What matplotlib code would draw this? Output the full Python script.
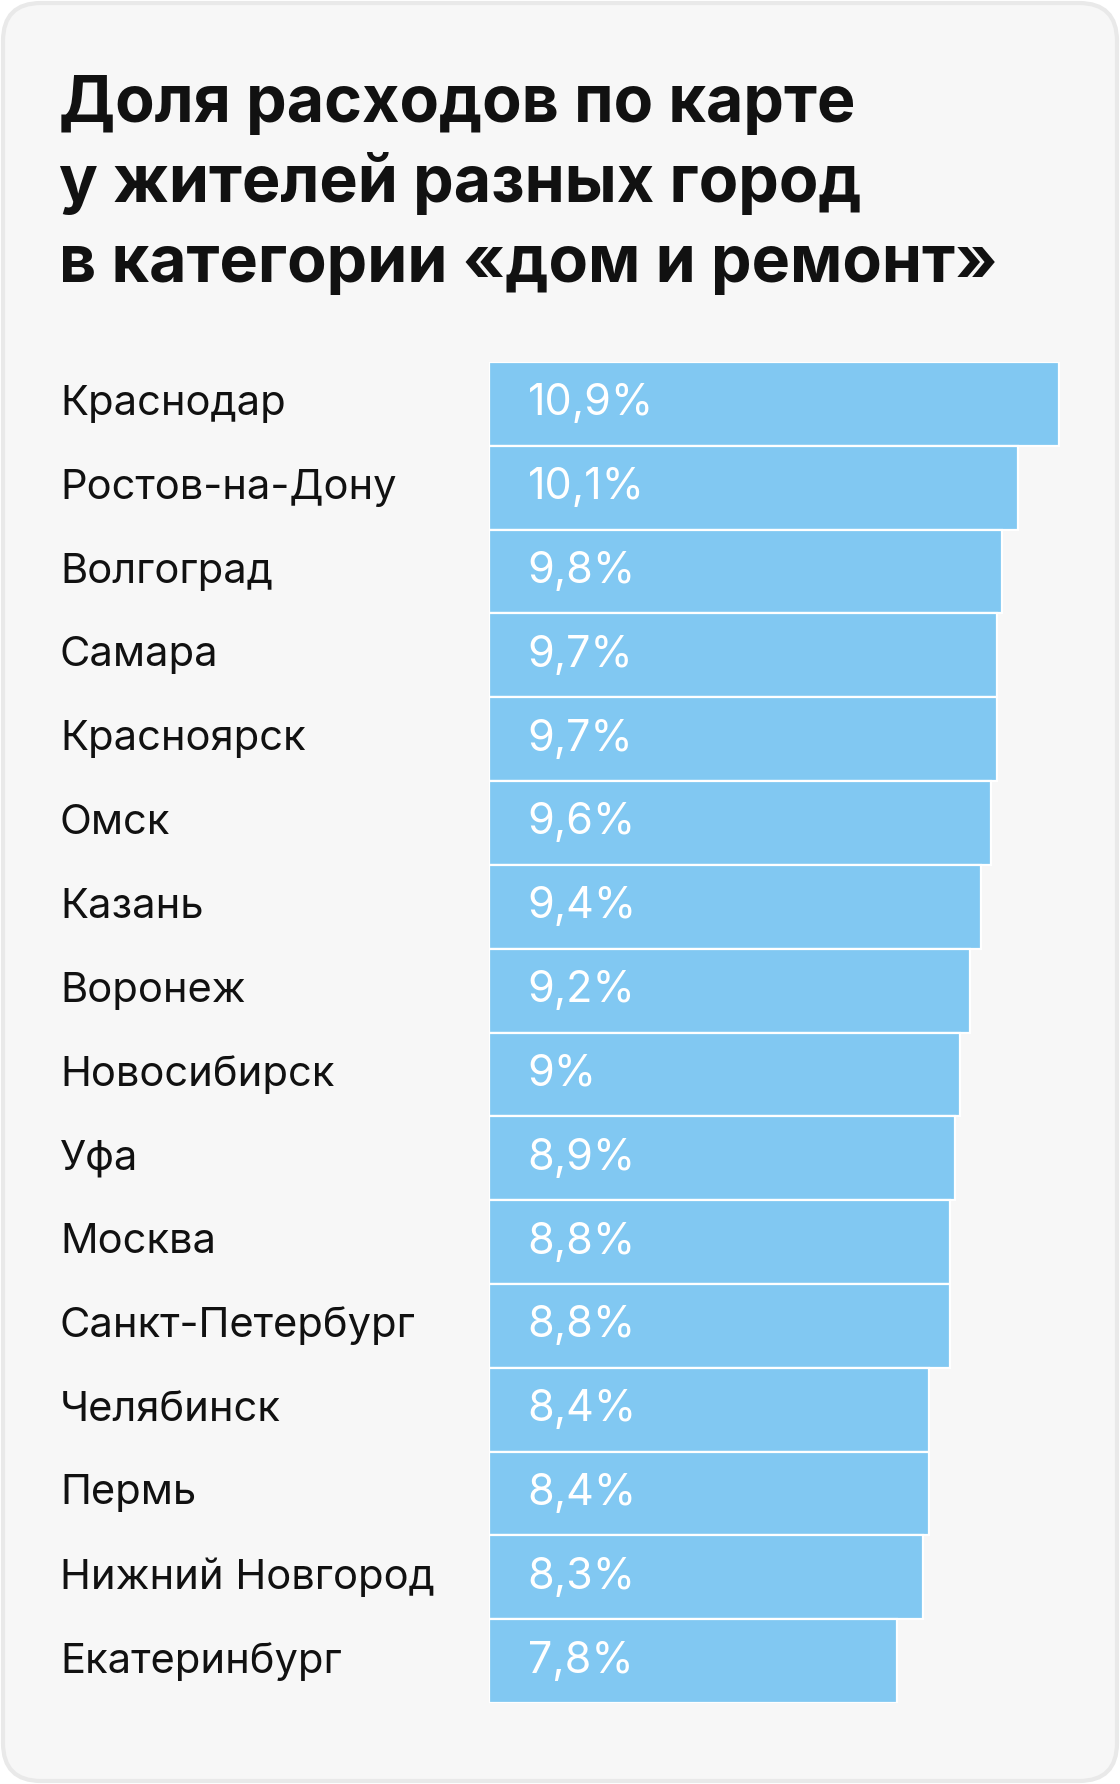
import matplotlib
matplotlib.use("Agg")
import matplotlib.pyplot as plt
from matplotlib.patches import FancyBboxPatch

# данные
goroda = ["Краснодар", "Ростов-на-Дону", "Волгоград", "Самара", "Красноярск",
          "Омск", "Казань", "Воронеж", "Новосибирск", "Уфа", "Москва",
          "Санкт-Петербург", "Челябинск", "Пермь", "Нижний Новгород", "Екатеринбург"]
doli = [10.9, 10.1, 9.8, 9.7, 9.7, 9.6, 9.4, 9.2, 9.0, 8.9, 8.8, 8.8, 8.4, 8.4, 8.3, 7.8]
podpisi = ["10,9%", "10,1%", "9,8%", "9,7%", "9,7%", "9,6%", "9,4%", "9,2%", "9%",
           "8,9%", "8,8%", "8,8%", "8,4%", "8,4%", "8,3%", "7,8%"]
zagolovok = ["Доля расходов по карте", "у жителей разных город",
             "в категории «дом и ремонт»"]

W, H = 1120, 1784
shrift = ["Inter", "DejaVu Sans"]

fig = plt.figure(figsize=(W / 100, H / 100), dpi=100)
fig.patch.set_facecolor("white")

# фон-карточка
bg = fig.add_axes([0, 0, 1, 1])
bg.set_xlim(0, W)
bg.set_ylim(H, 0)
bg.axis("off")
bg.add_patch(FancyBboxPatch((3, 3), W - 6, H - 6,
                            boxstyle="round,pad=0,rounding_size=38",
                            facecolor="#f7f7f7", edgecolor="#e9e9e9", linewidth=3))

for k, stroka in enumerate(zagolovok):
    bg.text(59, 122 + 80 * k, stroka, fontsize=46.5, fontweight="bold", family=shrift,
            va="baseline", ha="left", color="#111111")

# график
left, right = 489, 1117
top, bottom = 362, 1703
ax = fig.add_axes([left / W, 1 - bottom / H, (right - left) / W, (bottom - top) / H])
ax.set_xlim(0, 12)
ax.set_ylim(len(goroda) - 0.5, -0.5)
ax.axis("off")

y = list(range(len(goroda)))
ax.barh(y, doli, height=1.0, left=0, color="#81c8f2", edgecolor="white", linewidth=1.6)

for i in y:
    ax.text(0.74, i, podpisi[i], color="white", fontsize=31, family=shrift,
            va="center", ha="left")
    bg.text(60, top + (i + 0.5) * (bottom - top) / len(goroda), goroda[i],
            color="#111111", fontsize=30, family=shrift, va="center", ha="left")

fig.savefig("out.png", dpi=100)
